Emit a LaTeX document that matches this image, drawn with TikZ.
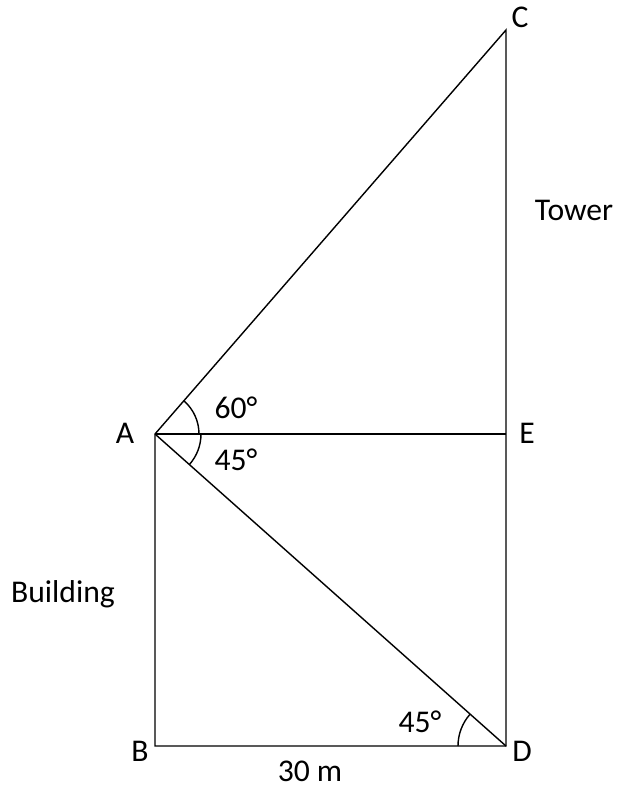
\documentclass[tikz,border=0pt]{standalone}
\usepackage{fontspec}
\setmainfont{Carlito}
\usepackage{tikz}

\begin{document}
\begin{tikzpicture}[x=0.02cm, y=-0.02cm,
    edge/.style={line width=0.8pt},
    anglearc/.style={line width=0.8pt},
    lbl/.style={font=\fontsize{18}{20}\selectfont, inner sep=0pt}]
    \useasboundingbox (0,0) rectangle (618,788);

    % points of the figure
    \coordinate (A) at (155,434);
    \coordinate (B) at (155,746);
    \coordinate (D) at (506,746);
    \coordinate (E) at (506,434);
    \coordinate (C) at (506,30);

    % building, tower and sight lines
    \draw[edge] (A) -- (B) -- (D) -- (C) -- cycle;
    \draw[edge] (A) -- (E);
    \draw[edge] (A) -- (D);

    % angles of elevation and depression
    \draw[anglearc] (A) ++(-49:44) arc[start angle=-49, end angle=0, radius=44];
    \draw[anglearc] (A) ++(0:46) arc[start angle=0, end angle=41.6, radius=46];
    \draw[anglearc] (D) ++(180:48) arc[start angle=180, end angle=221.6, radius=48];

    % point labels
    \node[lbl] (lA) at (125,433) {A};
    \node[lbl] (lB) at (140,751) {B};
    \node[lbl] (lC) at (520,17) {C};
    \node[lbl] (lD) at (522,751) {D};
    \node[lbl] (lE) at (527,433) {E};

    % texts
    \node[lbl] (tower) at (574,210) {Tower};
    \node[lbl] (building) at (63,594) {Building};
    \node[lbl] (base) at (310,771) {30 m};
    \node[lbl] (up) at (236,408) {60°};
    \node[lbl] (down) at (236,460) {45°};
    \node[lbl] (atD) at (420,722) {45°};
\end{tikzpicture}
\end{document}
